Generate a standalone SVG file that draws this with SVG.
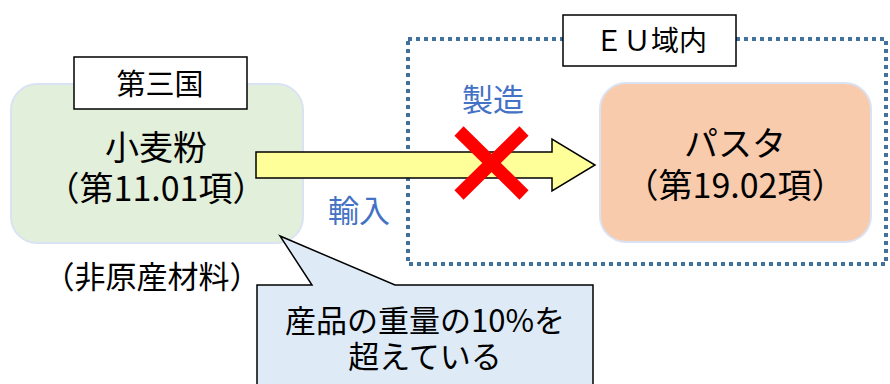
<svg xmlns="http://www.w3.org/2000/svg" width="890" height="384" viewBox="0 0 890 384">
<style>
text{font-family:"Noto Sans CJK JP","Noto Sans",sans-serif;fill:#000;text-anchor:middle}
.lbl{fill:#fff;stroke:#000;stroke-width:1.5}
.blue{fill:#4472c4;font-size:31px}
</style>
<rect width="890" height="384" fill="#fff"/>
<g id="eu-region">
<rect x="408" y="39" width="478" height="225" fill="none" stroke="#41719c" stroke-width="4" stroke-dasharray="4 4"/>
<rect class="lbl" x="563" y="15" width="173" height="51"/>
<text x="651" y="51" font-size="28">ＥＵ域内</text>
</g>
<g id="wheat-flour">
<rect x="11" y="84" width="292" height="159" rx="26" fill="#e2efda" stroke="#dae3f3" stroke-width="2"/>
<text font-size="34"><tspan x="156" y="160">小麦粉</tspan><tspan x="156" y="201">（第11.01項）</tspan></text>
</g>
<g id="third-country">
<rect class="lbl" x="74" y="57" width="173" height="52"/>
<text x="160" y="95" font-size="29">第三国</text>
</g>
<text x="152" y="288" font-size="31">（非原産材料）</text>
<g id="pasta">
<rect x="600" y="83" width="271" height="159" rx="26" fill="#f8cbad" stroke="#dae3f3" stroke-width="2"/>
<text font-size="34"><tspan x="735" y="156">パスタ</tspan><tspan x="735" y="198">（第19.02項）</tspan></text>
</g>
<g id="connectors">
<path d="M256 152 H552 V139 L595 165 L552 191 V178 H256 Z" fill="#ffff99" stroke="#000" stroke-width="1.5"/>
<text class="blue" x="493" y="111">製造</text>
<text class="blue" x="359" y="222">輸入</text>
<path d="M459 131 L524 195 M524 131 L459 195" stroke="#ff0000" stroke-width="13"/>
</g>
<g id="callout">
<path d="M257 390 V285 H312 L280 236 L395 285 H593 V390 Z" fill="#deebf7" stroke="#000" stroke-width="1.5"/>
<text font-size="31"><tspan x="425" y="332">産品の重量の10%を</tspan><tspan x="425" y="368">超えている</tspan></text>
</g>
</svg>
